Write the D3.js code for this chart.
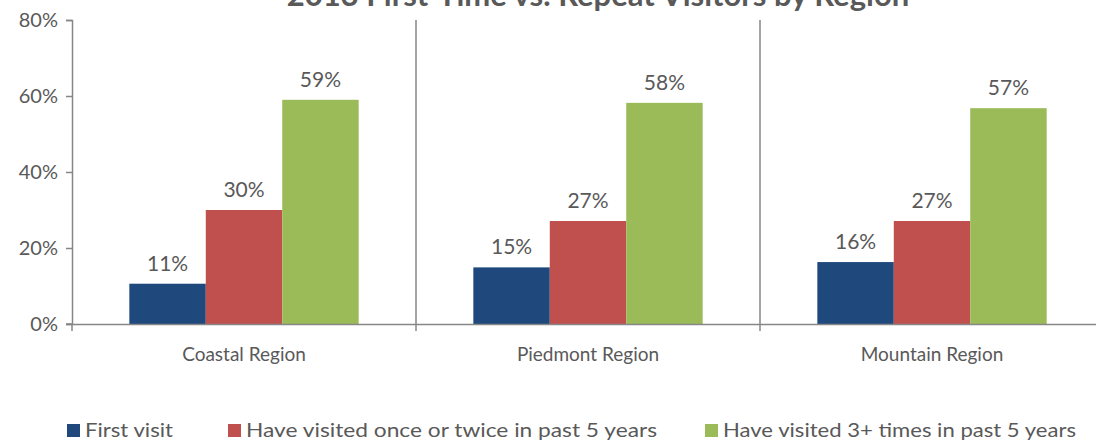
<!DOCTYPE html>
<html>
<head>
<meta charset="utf-8">
<script src="https://cdn.jsdelivr.net/npm/d3@7"></script>
<style>
  html, body { margin: 0; padding: 0; background: #fff; overflow: hidden; }
  svg text { font-family: Lato, "Open Sans", sans-serif; fill: #595959; }
</style>
</head>
<body>
<div id="chart"></div>
<script>
// DATA
const regions = ['Coastal Region', 'Piedmont Region', 'Mountain Region'];
const seriesNames = ['First visit', 'Have visited once or twice in past 5 years', 'Have visited 3+ times in past 5 years'];
const firstVisit = [10.6, 14.9, 16.3];
const onceTwice = [30.0, 27.1, 27.1];
const threePlus = [59.0, 58.2, 56.8];
const colors = ['#1f497d', '#c0504d', '#9bbb59'];
const yTicks = [0, 20, 40, 60, 80];

// DIMENSIONS
const width = 1096;
const height = 443;
const margin = { left: 72, right: -8, top: 20, bottom: 119 };

const svg = d3.select('#chart').append('svg')
  .attr('width', width)
  .attr('height', height);

const seriesVals = [firstVisit, onceTwice, threePlus];

// SCALES
const x0 = d3.scaleBand().domain(regions).range([margin.left, width - margin.right]).paddingInner(0).paddingOuter(0);
const x1 = d3.scaleBand().domain(d3.range(3)).range([0, x0.bandwidth()]).paddingInner(0).paddingOuter(0.75);
const y = d3.scaleLinear().domain([0, 80]).range([height - margin.bottom, margin.top]);

// title (cut off at top in reference)
svg.append('text')
  .attr('x', 598)
  .attr('y', 6)
  .attr('text-anchor', 'middle')
  .style('font-size', '31px')
  .style('font-weight', 'bold')
  .text('2013 First-Time vs. Repeat Visitors by Region');

// y axis
const yAxis = d3.axisLeft(y).tickValues(yTicks).tickSize(6).tickFormat(d => d + '%');
const gy = svg.append('g')
  .attr('transform', `translate(${margin.left},0)`)
  .call(yAxis);
gy.select('.domain').attr('stroke', '#868686').attr('stroke-width', 1.5);
gy.selectAll('.tick line').attr('stroke', '#868686').attr('stroke-width', 1.5);
gy.selectAll('.tick text').attr('x', -14).style('font-size', '20px');

// category dividers
const bounds = regions.map(r => x0(r)).concat([x0(regions[2]) + x0.bandwidth()]);
svg.append('g').selectAll('line.divider')
  .data(bounds.slice(1, 3))
  .enter().append('line')
  .attr('class', 'divider')
  .attr('x1', d => d).attr('x2', d => d)
  .attr('y1', y(80)).attr('y2', y(0))
  .attr('stroke', '#868686').attr('stroke-width', 1.5);

// bars
const groups = svg.selectAll('g.region')
  .data(regions)
  .enter().append('g')
  .attr('class', 'region')
  .attr('transform', d => `translate(${x0(d)},0)`);

groups.each(function(r, ri) {
  const g = d3.select(this);
  const vals = seriesVals.map(s => s[ri]);
  g.selectAll('rect')
    .data(vals)
    .enter().append('rect')
    .attr('x', (d, i) => x1(i))
    .attr('y', d => y(d))
    .attr('width', x1.bandwidth())
    .attr('height', d => y(0) - y(d))
    .attr('fill', (d, i) => colors[i]);
  g.selectAll('text.lbl')
    .data(vals)
    .enter().append('text')
    .attr('class', 'lbl')
    .attr('x', (d, i) => x1(i) + x1.bandwidth() / 2)
    .attr('y', d => y(d) - 13)
    .attr('text-anchor', 'middle')
    .style('font-size', '21px')
    .text(d => Math.round(d) + '%');
});

// x axis
const xAxis = d3.axisBottom(x0).tickSize(0).tickSizeOuter(0);
const gx = svg.append('g')
  .attr('transform', `translate(0,${y(0)})`)
  .call(xAxis);
gx.select('.domain').attr('stroke', '#868686').attr('stroke-width', 1.5);
gx.selectAll('.tick text').attr('dy', 0).attr('y', 37).style('font-size', '19px');
gx.selectAll('line.bound')
  .data(bounds)
  .enter().append('line')
  .attr('class', 'bound')
  .attr('x1', d => d).attr('x2', d => d)
  .attr('y1', 0).attr('y2', 7)
  .attr('stroke', '#868686').attr('stroke-width', 1.5);
gx.append('line')
  .attr('x1', margin.left - 6).attr('x2', margin.left)
  .attr('y1', 0).attr('y2', 0)
  .attr('stroke', '#868686').attr('stroke-width', 1.5);

// legend
const legendX = [67, 228, 705];
const legendLen = [88, 411, 353];
const legend = svg.append('g').selectAll('g.leg')
  .data(seriesNames)
  .enter().append('g')
  .attr('class', 'leg')
  .attr('transform', (d, i) => `translate(${legendX[i]},424)`);
legend.append('rect')
  .attr('width', 13).attr('height', 13)
  .attr('fill', (d, i) => colors[i]);
legend.append('text')
  .attr('x', 18).attr('y', 13)
  .attr('textLength', (d, i) => legendLen[i])
  .attr('lengthAdjust', 'spacingAndGlyphs')
  .style('font-size', '20px')
  .text(d => d);
</script>
</body>
</html>
